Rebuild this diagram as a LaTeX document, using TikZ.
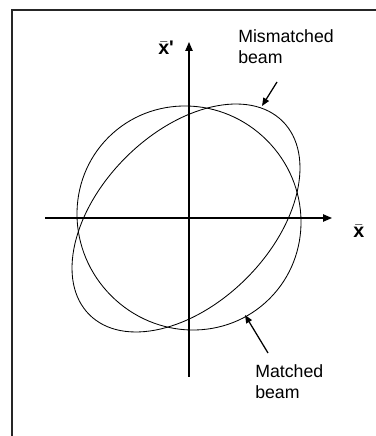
\documentclass[tikz,border=0pt]{standalone}
\usepackage{fontspec}
\setmainfont{Liberation Sans}
\usetikzlibrary{arrows.meta}

\newcommand{\barx}{$\bar{\mbox{\textbf{x}}}$}

\begin{document}
\begin{tikzpicture}[
            x=0.25mm,
            y=0.25mm,
            axis/.style={
                    -{Triangle[length=2.2mm, width=1.8mm]},
                    line width=0.9pt
                },
            beam/.style={
                    line width=0.6pt
                },
            pointer/.style={
                    -{Triangle[length=2mm, width=1.6mm]},
                    line width=0.9pt
                },
            beamtext/.style={
                    anchor=north west,
                    align=left,
                    inner sep=0pt,
                    font=\fontsize{12.6pt}{14.9pt}\selectfont
                },
            axislabel/.style={
                    anchor=base west,
                    inner sep=0pt,
                    font=\fontsize{14pt}{16pt}\selectfont\bfseries
                }
        ]

        \useasboundingbox (0, 0) rectangle (376, 436);

        % frame, runs off the right and bottom edges
        \begin{scope}
            \clip (0, 0) rectangle (376, 436);
            \draw[line width=1.4pt, draw=black!85] (12, -20) rectangle (400, 426);
        \end{scope}

        % phase space axes
        \coordinate (xstart) at (45, 218);
        \coordinate (xend) at (332, 218);
        \coordinate (ystart) at (189, 59);
        \coordinate (yend) at (189, 394);

        \draw[axis] (xstart) to (xend);
        \draw[axis] (ystart) to (yend);

        \node[axislabel] (xlabel) at (353, 198) {\barx};
        \node[axislabel] (xplabel) at (158, 381) {\barx\textbf{\textquotesingle}};

        % beams
        \draw[beam, rotate around={-45:(189, 218)}] (189, 218) ellipse [x radius=114, y radius=110];
        \draw[beam, rotate around={45:(186, 218)}] (186, 218) ellipse [x radius=136.7, y radius=85.4];

        \node[beamtext] (mismatched) at (238, 407) {Mismatched\\beam};
        \node[beamtext] (matched) at (255, 72) {Matched\\beam};

        \coordinate (mistail) at (277, 354);
        \coordinate (mistip) at (262, 330);
        \coordinate (mattail) at (268, 83);
        \coordinate (mattip) at (245, 121);

        \draw[pointer] (mistail) to (mistip);
        \draw[pointer] (mattail) to (mattip);

    \end{tikzpicture}
\end{document}
